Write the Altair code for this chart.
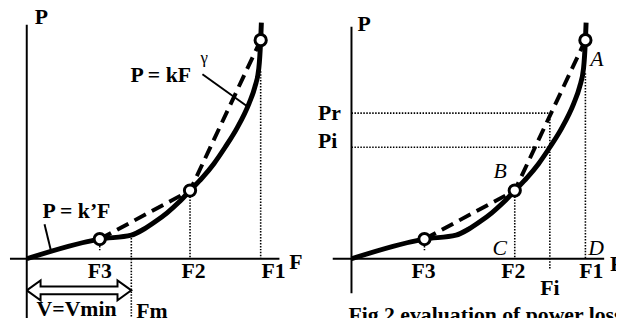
import altair as alt
import pandas as pd

# ---------------- values (F = flow, P = power) ----------------
curve_F = [0.0, 3.12, 4.47, 5.0, 5.5, 6.0, 6.5, 6.98, 7.5, 8.0, 8.48, 9.0, 9.5, 9.75, 9.92, 10.0, 10.03]
curve_P = [0.0, 0.90, 1.08, 1.35, 1.70, 2.10, 2.58, 3.12, 3.70, 4.35, 5.10, 6.00, 7.10, 7.85, 8.70, 10.0, 10.8]
point_names = ["F3", "F2", "F1"]
point_F = [3.12, 6.98, 10.0]
point_P = [0.90, 3.12, 10.0]
F_m, P_m = 4.47, 1.08          # Fm knee (V = Vmin)
F_i, P_i, P_r = 8.48, 5.10, 6.66

# ---------------- geometry (pixels) ----------------
PX_X, PX_Y = 23.7, 22.15       # pixels per unit
H = 312
W1, W2 = 300, 316
OY = 252                       # origin row inside each panel
OX1, OX2 = 19, 48              # origin column inside each panel

ydom = [-(H - OY) / PX_Y, OY / PX_Y]
xdom1 = [-OX1 / PX_X, (W1 - OX1) / PX_X]
xdom2 = [-OX2 / PX_X, (W2 - OX2) / PX_X]

FONT = "Liberation Serif"
curve = pd.DataFrame({"F": curve_F, "P": curve_P})
pts = pd.DataFrame({"F": point_F, "P": point_P, "name": point_names})


def X(xd, f="F"):
    return alt.X(f"{f}:Q", scale=alt.Scale(domain=xd, nice=False, zero=False), axis=None)


def Y(f="P"):
    return alt.Y(f"{f}:Q", scale=alt.Scale(domain=ydom, nice=False, zero=False), axis=None)


def segs(xd, rows, **mk):
    df = pd.DataFrame(rows, columns=["xa", "ya", "xb", "yb"])
    return alt.Chart(df).mark_rule(clip=True, color="black", **mk).encode(
        x=X(xd, "xa"), y=Y("ya"), x2="xb:Q", y2="yb:Q")


def texts(xd, rows, **mk):
    df = pd.DataFrame(rows, columns=["F", "P", "t"])
    base = dict(clip=True, font=FONT, fontSize=22, fontWeight="bold", color="black",
                baseline="alphabetic")
    base.update(mk)
    return alt.Chart(df).mark_text(**base).encode(x=X(xd), y=Y(), text="t:N")


def common(xd):
    solid = alt.Chart(curve).mark_line(clip=True, color="black", strokeWidth=5,
                                       interpolate="monotone", strokeCap="butt").encode(
        x=X(xd), y=Y(), order="F:Q")
    dashed = alt.Chart(pts).mark_line(clip=True, color="black", strokeWidth=4,
                                      strokeDash=[13, 7]).encode(x=X(xd), y=Y(), order="F:Q")
    circles = alt.Chart(pts).mark_point(clip=True, shape="circle", filled=True, fill="white",
                                        stroke="black", strokeWidth=3, size=130,
                                        opacity=1).encode(x=X(xd), y=Y())
    return solid, dashed, circles


def yv(px):  # pixel offset -> data units (vertical)
    return px / PX_Y


def xv(px):
    return px / PX_X


# ---------------- left panel ----------------
s1, d1, c1 = common(xdom1)
axes1 = segs(xdom1, [
    [0, ydom[0], 0, yv(237)],
    [xv(-17), 0, xv(256), 0],
], strokeWidth=2)
dots1 = segs(xdom1, [
    [point_F[0], yv(13), point_F[0], yv(7)],
    [point_F[1], point_P[1], point_F[1], 0],
    [point_F[2], yv(190), point_F[2], 0],
    [F_m, P_m, F_m, ydom[0]],
], strokeWidth=1.6, strokeDash=[1.5, 1.5])
leaders1 = segs(xdom1, [
    [xv(178), yv(187), 9.45, 6.95],
    [xv(18), yv(35), 1.05, 0.30],
], strokeWidth=2)

yc = -yv(32)
hl, hh, sh = xv(14), yv(10), yv(4)
arrow_pts = [
    (0, yc), (hl, yc + hh), (hl, yc + sh), (F_m - hl, yc + sh), (F_m - hl, yc + hh),
    (F_m, yc), (F_m - hl, yc - hh), (F_m - hl, yc - sh), (hl, yc - sh), (hl, yc - hh), (0, yc),
]
arrow_df = pd.DataFrame({"F": [p[0] for p in arrow_pts], "P": [p[1] for p in arrow_pts],
                         "o": list(range(len(arrow_pts)))})
arrow = alt.Chart(arrow_df).mark_line(clip=True, color="black", strokeWidth=2,
                                      strokeJoin="miter").encode(x=X(xdom1), y=Y(), order="o:Q")

t1_left = texts(xdom1, [
    [xv(8), yv(238), "P"],
    [xv(266), yv(-10), "F"],
    [xv(105), yv(179), "P = kF"],
    [xv(16), yv(41), "P = k\u2019F"],
    [xv(10), yv(-58), "V=Vmin"],
    [xv(111), yv(-60), "Fm"],
], align="left")
t1_center = texts(xdom1, [
    [xv(74), yv(-20), "F3"],
    [xv(169), yv(-20), "F2"],
    [xv(250), yv(-20), "F1"],
], align="center")
t1_small = texts(xdom1, [[xv(176), yv(198), "\u03b3"]], align="left", fontSize=17,
                 fontWeight="normal")

left = alt.layer(axes1, dots1, leaders1, arrow, s1, d1, c1, t1_left, t1_center, t1_small).properties(
    width=W1, height=H)

# ---------------- right panel ----------------
s2, d2, c2 = common(xdom2)
shade_df = curve[(curve.F >= point_F[1]) & (curve.F <= point_F[2])]
shade = alt.Chart(shade_df).mark_area(clip=True, color="#d6d6d6", interpolate="monotone").encode(
    x=X(xdom2), y=Y(), order="F:Q")
axes2 = segs(xdom2, [
    [0, yv(-35), 0, yv(235)],
    [xv(-19), 0, xv(256), 0],
], strokeWidth=2)
dots2 = segs(xdom2, [
    [point_F[0], yv(13), point_F[0], yv(7)],
    [point_F[1], point_P[1], point_F[1], 0],
    [point_F[2], yv(188), point_F[2], 0],
    [F_i, P_r, F_i, yv(-10)],
    [0, P_r, F_i, P_r],
    [0, P_i, F_i, P_i],
], strokeWidth=1.6, strokeDash=[1.5, 1.5])

t2_left = texts(xdom2, [
    [xv(6), yv(231), "P"],
    [xv(262), yv(-12), "F"],
    [xv(-34), yv(141), "Pr"],
    [xv(-34), yv(112), "Pi"],
    [xv(-3), yv(-64), "Fig.2 evaluation of power loss"],
], align="left")
t2_center = texts(xdom2, [
    [xv(73), yv(-20), "F3"],
    [xv(164), yv(-20), "F2"],
    [xv(243), yv(-20), "F1"],
    [F_i, yv(-37), "Fi"],
], align="center")
t2_ital = texts(xdom2, [
    [xv(242), yv(195), "A"],
    [xv(144), yv(82), "B"],
    [xv(143), yv(4), "C"],
    [xv(240), yv(4), "D"],
], align="left", fontStyle="italic", fontWeight="normal")

right = alt.layer(shade, dots2, axes2, s2, d2, c2, t2_left, t2_center, t2_ital).properties(
    width=W2, height=H)

chart = alt.hconcat(left, right, spacing=0).properties(padding=0).configure_view(stroke=None)
chart.save("out.html", embed_options={"renderer": "svg", "actions": False})
